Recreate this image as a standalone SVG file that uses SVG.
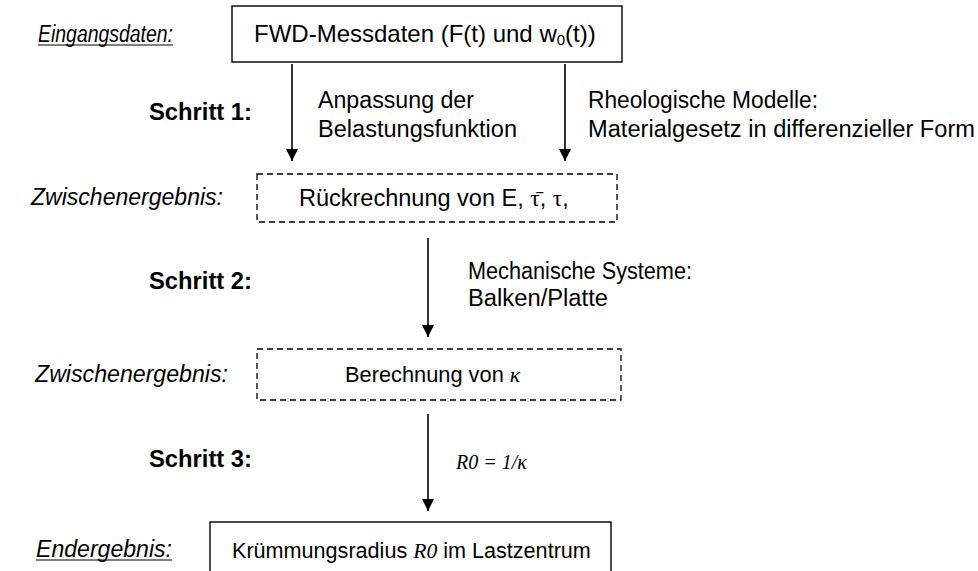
<svg xmlns="http://www.w3.org/2000/svg" width="978" height="571" viewBox="0 0 978 571">
<defs>
<style>
.t{font-family:"Liberation Sans",Arial,sans-serif;font-size:23px;fill:#000}
.b{font-weight:bold}
.i{font-style:italic}
.s{font-family:"Liberation Serif","Times New Roman",serif}
.solid{fill:#fff;stroke:#000;stroke-width:1.4}
.dash{fill:none;stroke:#000;stroke-width:1.3;stroke-dasharray:6 4}
.con{stroke:#000;stroke-width:1.6;fill:none;marker-end:url(#ah)}
.ul{stroke:#000;stroke-width:1.2}
</style>
<marker id="ah" viewBox="0 0 12 12" refX="12" refY="6" markerWidth="12" markerHeight="12" markerUnits="userSpaceOnUse" orient="auto">
<path d="M0,0 L12,6 L0,12 Z" fill="#000"/>
</marker>
</defs>
<rect width="978" height="571" fill="#fff"/>

<g id="labels">
<text class="t i" x="38" y="42" textLength="135" lengthAdjust="spacingAndGlyphs">Eingangsdaten:</text>
<line class="ul" x1="38" y1="45" x2="173" y2="45"/>
<text class="t b" x="149" y="120" textLength="103" lengthAdjust="spacingAndGlyphs">Schritt 1:</text>
<text class="t i" x="31" y="205" textLength="192" lengthAdjust="spacingAndGlyphs">Zwischenergebnis:</text>
<text class="t b" x="149" y="289" textLength="103" lengthAdjust="spacingAndGlyphs">Schritt 2:</text>
<text class="t i" x="35" y="382" textLength="193" lengthAdjust="spacingAndGlyphs">Zwischenergebnis:</text>
<text class="t b" x="149" y="467" textLength="103" lengthAdjust="spacingAndGlyphs">Schritt 3:</text>
<text class="t i" x="36" y="557" textLength="136" lengthAdjust="spacingAndGlyphs">Endergebnis:</text>
<line class="ul" x1="36" y1="560" x2="172" y2="560"/>
</g>

<g id="input">
<rect class="solid" x="232" y="6" width="390" height="56"/>
<text class="t" x="254" y="42" style="font-size:24px">FWD-Messdaten (F(t) und w<tspan style="font-size:15px" dy="3">0</tspan><tspan dy="-3">(t))</tspan></text>
</g>

<g id="zwischen1">
<rect class="dash" x="257" y="174" width="360" height="48"/>
<text class="t" x="299" y="206" style="font-size:23.5px">Rückrechnung von E, <tspan class="s">τ̄</tspan>, <tspan class="s">τ</tspan>,</text>
</g>

<g id="zwischen2">
<rect class="dash" x="257" y="349" width="364" height="51"/>
<text class="t" x="345" y="382" style="font-size:21.8px">Berechnung von <tspan class="s i">κ</tspan></text>
</g>

<g id="ende">
<rect class="solid" x="210" y="522" width="401" height="60"/>
<text class="t" x="232" y="558" style="font-size:21.6px">Krümmungsradius <tspan class="s i">R0</tspan> im Lastzentrum</text>
</g>

<g id="connectors">
<line class="con" x1="292" y1="64" x2="292" y2="161"/>
<line class="con" x1="565" y1="64" x2="565" y2="161"/>
<line class="con" x1="428" y1="238" x2="428" y2="337"/>
<line class="con" x1="428" y1="414" x2="428" y2="511"/>
</g>

<g id="edge-labels">
<text class="t" x="318" y="108" textLength="156" lengthAdjust="spacingAndGlyphs">Anpassung der</text>
<text class="t" x="318" y="137" textLength="199" lengthAdjust="spacingAndGlyphs">Belastungsfunktion</text>
<text class="t" x="588" y="108" textLength="230" lengthAdjust="spacingAndGlyphs">Rheologische Modelle:</text>
<text class="t" x="588" y="137" textLength="387" lengthAdjust="spacingAndGlyphs">Materialgesetz in differenzieller Form</text>
<text class="t" x="468" y="279" textLength="224" lengthAdjust="spacingAndGlyphs">Mechanische Systeme:</text>
<text class="t" x="468" y="306" textLength="140" lengthAdjust="spacingAndGlyphs">Balken/Platte</text>
<text class="t s i" x="456" y="469" style="font-size:20px">R0 = 1/κ</text>
</g>
</svg>
